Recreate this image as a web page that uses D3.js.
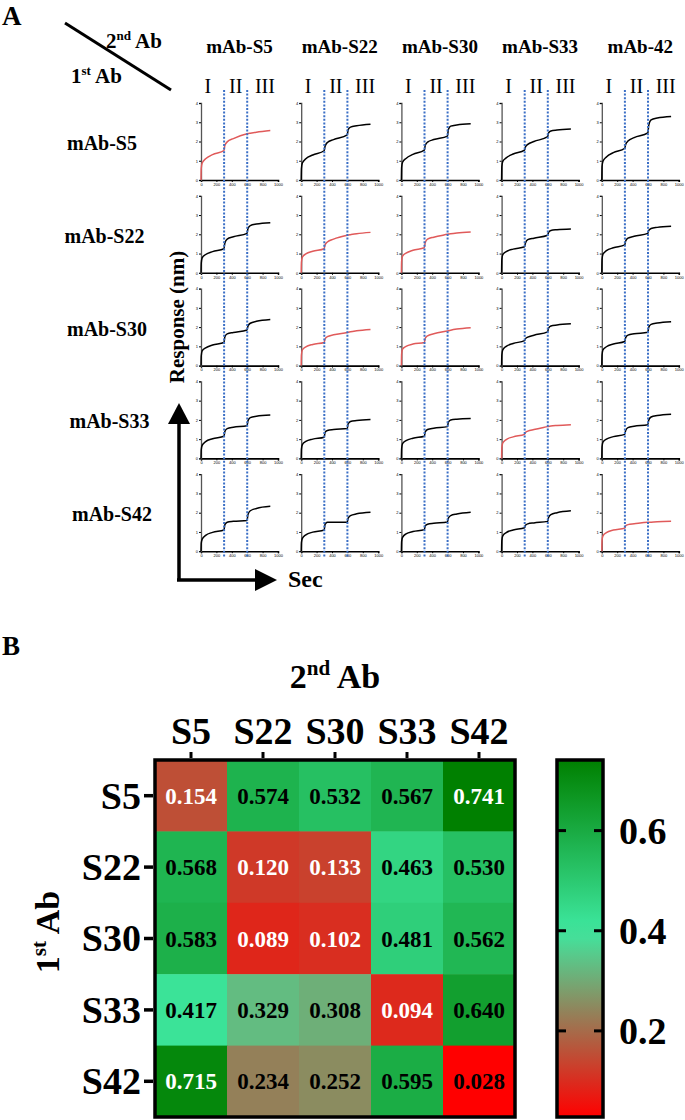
<!DOCTYPE html>
<html>
<head>
<meta charset="utf-8">
<script src="https://cdn.jsdelivr.net/npm/d3@7"></script>
<style>
  body { margin: 0; background: #fff; }
  svg text { font-family: "Liberation Serif", "Times New Roman", serif; }
  .tiny text { font-family: "Liberation Sans", Arial, sans-serif; font-size: 4px; }
</style>
</head>
<body>
<div id="chart"></div>
<script>
// --> DATA
var abNames = ["mAb-S5", "mAb-S22", "mAb-S30", "mAb-S33", "mAb-S42"];
var colTitles = ["mAb-S5", "mAb-S22", "mAb-S30", "mAb-S33", "mAb-42"];
var phaseLabels = ["I", "II", "III"];
var phaseTimes = [90, 450, 830];     // where the roman numerals sit (sec)
var stepTimes = [300, 600];          // 2nd / 3rd antibody injections
var xTicks = [0, 200, 400, 600, 800, 1000];
var yTicks = [0, 1, 2, 3, 4];

// sample times shared by every sensorgram
var times = [0, 3, 15, 60, 150, 298, 310, 340, 420, 598, 610, 640, 720, 900];

// response (nm); one list per 1st Ab, one array per 2nd Ab
var curvesS5 = [
  [0, 0.60, 0.88, 1.10, 1.32, 1.52, 1.80, 1.98, 2.15, 2.40, 2.41, 2.43, 2.48, 2.57],
  [0, 0.60, 0.88, 1.10, 1.30, 1.52, 1.75, 1.95, 2.10, 2.35, 2.62, 2.75, 2.82, 2.90],
  [0, 0.65, 0.92, 1.12, 1.33, 1.55, 1.80, 1.97, 2.10, 2.28, 2.62, 2.80, 2.86, 2.92],
  [0, 0.70, 0.97, 1.15, 1.35, 1.55, 1.72, 1.85, 2.00, 2.25, 2.45, 2.55, 2.60, 2.65],
  [0, 0.70, 0.97, 1.20, 1.42, 1.65, 1.85, 2.02, 2.20, 2.45, 2.85, 3.12, 3.22, 3.30]
];
var curvesS22 = [
  [0, 0.50, 0.78, 0.95, 1.10, 1.25, 1.55, 1.75, 1.87, 2.05, 2.30, 2.45, 2.53, 2.60],
  [0, 0.55, 0.82, 0.98, 1.12, 1.25, 1.45, 1.60, 1.75, 1.95, 1.96, 1.98, 2.03, 2.10],
  [0, 0.60, 0.87, 1.02, 1.17, 1.30, 1.58, 1.75, 1.85, 2.00, 2.01, 2.03, 2.07, 2.12],
  [0, 0.70, 0.95, 1.10, 1.23, 1.35, 1.55, 1.72, 1.80, 1.95, 2.10, 2.20, 2.24, 2.28],
  [0, 0.70, 0.97, 1.15, 1.30, 1.45, 1.65, 1.80, 1.90, 2.05, 2.20, 2.30, 2.36, 2.42]
];
var curvesS30 = [
  [0, 0.50, 0.77, 0.92, 1.07, 1.20, 1.50, 1.65, 1.72, 1.85, 2.05, 2.20, 2.30, 2.40],
  [0, 0.55, 0.82, 0.97, 1.10, 1.20, 1.38, 1.50, 1.60, 1.72, 1.73, 1.76, 1.81, 1.88],
  [0, 0.60, 0.86, 1.00, 1.12, 1.20, 1.42, 1.55, 1.65, 1.80, 1.81, 1.84, 1.90, 1.97],
  [0, 0.55, 0.82, 1.00, 1.15, 1.30, 1.40, 1.48, 1.58, 1.75, 1.95, 2.06, 2.11, 2.17],
  [0, 0.55, 0.82, 0.98, 1.12, 1.25, 1.45, 1.58, 1.65, 1.73, 2.00, 2.14, 2.21, 2.28]
];
var curvesS33 = [
  [0, 0.45, 0.68, 0.87, 1.02, 1.15, 1.40, 1.55, 1.62, 1.70, 1.95, 2.12, 2.19, 2.25],
  [0, 0.48, 0.72, 0.88, 1.00, 1.10, 1.35, 1.45, 1.50, 1.55, 1.80, 1.92, 1.97, 2.02],
  [0, 0.50, 0.77, 0.92, 1.05, 1.15, 1.38, 1.50, 1.57, 1.65, 1.88, 2.00, 2.04, 2.07],
  [0, 0.55, 0.80, 0.98, 1.12, 1.25, 1.35, 1.42, 1.50, 1.65, 1.66, 1.68, 1.71, 1.75],
  [0, 0.60, 0.85, 1.00, 1.13, 1.25, 1.45, 1.60, 1.67, 1.75, 2.00, 2.15, 2.23, 2.30]
];
var curvesS42 = [
  [0, 0.42, 0.62, 0.82, 0.98, 1.10, 1.38, 1.50, 1.55, 1.60, 1.90, 2.10, 2.22, 2.33],
  [0, 0.45, 0.67, 0.85, 0.99, 1.10, 1.40, 1.50, 1.50, 1.50, 1.72, 1.85, 1.94, 2.02],
  [0, 0.50, 0.72, 0.90, 1.02, 1.12, 1.32, 1.40, 1.45, 1.52, 1.72, 1.85, 1.93, 2.02],
  [0, 0.55, 0.80, 0.97, 1.10, 1.22, 1.35, 1.42, 1.47, 1.55, 1.75, 1.90, 2.00, 2.10],
  [0, 0.55, 0.80, 0.97, 1.10, 1.20, 1.32, 1.38, 1.42, 1.50, 1.50, 1.51, 1.53, 1.55]
];
var curves = [curvesS5, curvesS22, curvesS30, curvesS33, curvesS42];

// competition heatmap (B)
var heatRows = ["S5", "S22", "S30", "S33", "S42"];
var heatCols = ["S5", "S22", "S30", "S33", "S42"];
var ratios = [
  [0.154, 0.574, 0.532, 0.567, 0.741],
  [0.568, 0.120, 0.133, 0.463, 0.530],
  [0.583, 0.089, 0.102, 0.481, 0.562],
  [0.417, 0.329, 0.308, 0.094, 0.640],
  [0.715, 0.234, 0.252, 0.595, 0.028]
];
var barTicks = [0.2, 0.4, 0.6];

// --> CREATE SVG DRAWING AREA
var width = 685, height = 1120;
var svg = d3.select("#chart").append("svg")
    .attr("width", width)
    .attr("height", height);

// ================= PANEL A =================
svg.append("text").attr("x", 2).attr("y", 25)
    .attr("font-size", 27).attr("font-weight", "bold").text("A");

// corner header with diagonal
svg.append("line")
    .attr("x1", 65).attr("y1", 23).attr("x2", 171).attr("y2", 90)
    .attr("stroke", "black").attr("stroke-width", 3);

function supLabel(sel, x, y, big, sup, rest, fs, anchor) {
    var t = sel.append("text").attr("x", x).attr("y", y)
        .attr("font-size", fs).attr("font-weight", "bold")
        .attr("text-anchor", anchor || "start");
    t.append("tspan").text(big);
    t.append("tspan").attr("font-size", fs * 0.62).attr("dy", -fs * 0.38).text(sup);
    t.append("tspan").attr("dy", fs * 0.38).text(rest);
    return t;
}
supLabel(svg, 106, 48, "2", "nd", " Ab", 21);
supLabel(svg, 71, 83, "1", "st", " Ab", 21);

var plotW = 77, plotH = 77;
var colStep = 100.2, rowStep = 92.8;
var firstX = 201, firstBottom = 180;

colTitles.forEach(function(t, j) {
    var x0 = firstX + j * colStep;
    var x = d3.scaleLinear().domain([0, 1000]).range([x0, x0 + plotW]);
    svg.append("text")
        .attr("x", x(500)).attr("y", 53)
        .attr("text-anchor", "middle")
        .attr("font-size", 19).attr("font-weight", "bold")
        .text(t);
    svg.selectAll(".phase" + j)
        .data(phaseLabels)
        .enter().append("text")
        .attr("x", function(d, i) { return x(phaseTimes[i]); })
        .attr("y", 93)
        .attr("text-anchor", "middle")
        .attr("font-size", 20)
        .text(function(d) { return d; });
});

abNames.forEach(function(name, i) {
    var yb = firstBottom + i * rowStep;
    svg.append("text")
        .attr("x", 102 + i * 2.5).attr("y", yb - 30)
        .attr("text-anchor", "middle")
        .attr("font-size", 20).attr("font-weight", "bold")
        .text(name);
});

var line = d3.line().curve(d3.curveMonotoneX);

curves.forEach(function(rowCurves, i) {
    var yb = firstBottom + i * rowStep;
    var y = d3.scaleLinear().domain([0, 4]).range([yb, yb - plotH]);
    rowCurves.forEach(function(vals, j) {
        var x0 = firstX + j * colStep;
        var x = d3.scaleLinear().domain([0, 1000]).range([x0, x0 + plotW]);
        var g = svg.append("g").attr("class", "tiny");

        var xa = g.append("g").attr("transform", "translate(0," + yb + ")")
            .call(d3.axisBottom(x).tickValues(xTicks).tickSize(2).tickPadding(1)
                .tickFormat(d3.format("d")));
        xa.select(".domain").attr("stroke-width", 1.6);
        var ya = g.append("g").attr("transform", "translate(" + x0 + ",0)")
            .call(d3.axisLeft(y).tickValues(yTicks).tickSize(2).tickPadding(1)
                .tickFormat(d3.format("d")));
        ya.select(".domain").attr("stroke", "#555").attr("stroke-width", 1.3);

        // pairs that compete (low ratio in panel B) are drawn in red
        var blocked = ratios[i][j] < 0.2;
        var pts = times.map(function(t, k) { return [x(t), y(vals[k])]; });
        g.append("path")
            .attr("d", line(pts))
            .attr("fill", "none")
            .attr("stroke", blocked ? "#e05a5a" : "black")
            .attr("stroke-width", 1.5);
    });
});

// dotted injection markers through each column
colTitles.forEach(function(t, j) {
    var x0 = firstX + j * colStep;
    var x = d3.scaleLinear().domain([0, 1000]).range([x0, x0 + plotW]);
    svg.selectAll(".step" + j)
        .data(stepTimes)
        .enter().append("line")
        .attr("x1", function(d) { return x(d); })
        .attr("x2", function(d) { return x(d); })
        .attr("y1", 90)
        .attr("y2", firstBottom + 4 * rowStep + 6)
        .attr("stroke", "#3b6fc6")
        .attr("stroke-width", 2)
        .attr("stroke-dasharray", "2,1.6");
});

// axis arrows
svg.append("line").attr("x1", 179).attr("y1", 580).attr("x2", 179).attr("y2", 420)
    .attr("stroke", "black").attr("stroke-width", 3.5);
svg.append("path").attr("d", "M168,424 L190,424 L179,403 Z").attr("fill", "black");
svg.append("line").attr("x1", 177).attr("y1", 580).attr("x2", 258).attr("y2", 580)
    .attr("stroke", "black").attr("stroke-width", 3.5);
svg.append("path").attr("d", "M255,569 L255,591 L277,580 Z").attr("fill", "black");
svg.append("text").attr("x", 288).attr("y", 587)
    .attr("font-size", 24).attr("font-weight", "bold").text("Sec");
svg.append("text")
    .attr("transform", "translate(184,317) rotate(-90)")
    .attr("text-anchor", "middle")
    .attr("font-size", 21).attr("font-weight", "bold")
    .text("Response (nm)");

// ================= PANEL B =================
svg.append("text").attr("x", 2).attr("y", 655)
    .attr("font-size", 27).attr("font-weight", "bold").text("B");

var hx = d3.scaleBand().domain(heatCols).range([155, 515]);
var hy = d3.scaleBand().domain(heatRows).range([760, 1117]);
var extent = [d3.min(ratios, function(r) { return d3.min(r); }),
              d3.max(ratios, function(r) { return d3.max(r); })];
var colorScale = d3.scaleLinear()
    .domain([extent[0], 0.4, extent[1]])
    .range(["#ff0000", "#3ee8a0", "#008000"]);

var cells = [];
ratios.forEach(function(r, i) {
    r.forEach(function(v, j) { cells.push({ row: heatRows[i], col: heatCols[j], v: v }); });
});

svg.append("g").selectAll("rect")
    .data(cells)
    .enter().append("rect")
    .attr("x", function(d) { return hx(d.col); })
    .attr("y", function(d) { return hy(d.row); })
    .attr("width", hx.bandwidth() + 0.5)
    .attr("height", hy.bandwidth() + 0.5)
    .attr("fill", function(d) { return colorScale(d.v); });

svg.append("g").selectAll("text")
    .data(cells)
    .enter().append("text")
    .attr("x", function(d) { return hx(d.col) + hx.bandwidth() / 2; })
    .attr("y", function(d) { return hy(d.row) + hy.bandwidth() / 2 + 8; })
    .attr("text-anchor", "middle")
    .attr("font-size", 23).attr("font-weight", "bold")
    .attr("fill", function(d) { return ((d.v > 0.05 && d.v < 0.2) || d.v > 0.7) ? "white" : "black"; })
    .text(function(d) { return d3.format(".3f")(d.v); });

svg.append("rect")
    .attr("x", 155).attr("y", 760)
    .attr("width", 360).attr("height", 357)
    .attr("fill", "none").attr("stroke", "black").attr("stroke-width", 3.5);

// column / row labels with ticks
var colAxis = svg.append("g").attr("transform", "translate(0,758)")
    .call(d3.axisTop(hx).tickSize(6).tickPadding(8));
colAxis.select(".domain").remove();
colAxis.selectAll("line").attr("stroke-width", 3);
colAxis.selectAll("text").attr("font-size", 38).attr("font-weight", "bold")
    .attr("font-family", "Liberation Serif, Times New Roman, serif");

var rowAxis = svg.append("g").attr("transform", "translate(153,0)")
    .call(d3.axisLeft(hy).tickSize(9).tickPadding(3));
rowAxis.select(".domain").remove();
rowAxis.selectAll("line").attr("stroke-width", 3.5);
rowAxis.selectAll("text").attr("font-size", 38).attr("font-weight", "bold")
    .attr("dy", "0.34em")
    .attr("font-family", "Liberation Serif, Times New Roman, serif");

supLabel(svg, 335, 688, "2", "nd", " Ab", 34, "middle");
supLabel(svg.append("g").attr("transform", "translate(59,932) rotate(-90)"),
    0, 0, "1", "st", " Ab", 34, "middle");

// color bar
var barY = d3.scaleLinear().domain(extent).range([1117, 760]);
var grad = svg.append("defs").append("linearGradient")
    .attr("id", "barGrad")
    .attr("x1", 0).attr("y1", 1).attr("x2", 0).attr("y2", 0);
d3.range(0, 1.0001, 0.05).forEach(function(o) {
    grad.append("stop")
        .attr("offset", o)
        .attr("stop-color", colorScale(extent[0] + o * (extent[1] - extent[0])));
});
svg.append("rect")
    .attr("x", 557).attr("y", 760).attr("width", 46).attr("height", 357)
    .attr("fill", "url(#barGrad)")
    .attr("stroke", "black").attr("stroke-width", 3.5);

var barTickG = svg.append("g").selectAll("g")
    .data(barTicks)
    .enter().append("g")
    .attr("transform", function(d) { return "translate(0," + barY(d) + ")"; });
barTickG.append("line").attr("x1", 557).attr("x2", 566)
    .attr("stroke", "black").attr("stroke-width", 3);
barTickG.append("line").attr("x1", 594).attr("x2", 603)
    .attr("stroke", "black").attr("stroke-width", 3);
barTickG.append("text")
    .attr("x", 619).attr("y", 13)
    .attr("font-size", 38).attr("font-weight", "bold")
    .text(function(d) { return d3.format(".1f")(d); });
</script>
</body>
</html>
